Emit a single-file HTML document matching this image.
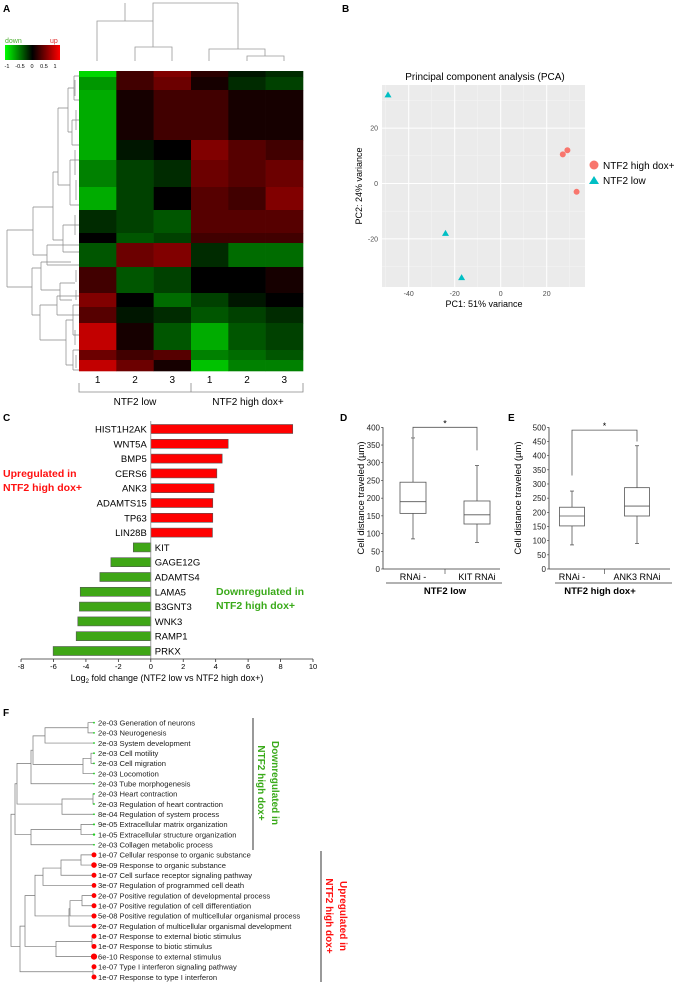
<!DOCTYPE html>
<html><head><meta charset="utf-8">
<style>
html,body{margin:0;padding:0;background:#fff;}
svg{display:block;font-family:"Liberation Sans",Arial,sans-serif;}
</style></head>
<body>
<svg id="fig" width="689" height="986" viewBox="0 0 689 986" xmlns="http://www.w3.org/2000/svg">
<defs>
<linearGradient id="ckey" x1="0" x2="1" y1="0" y2="0">
<stop offset="0" stop-color="#00ff00"/><stop offset="0.5" stop-color="#000"/><stop offset="1" stop-color="#ff0000"/>
</linearGradient>
</defs>
<g font-weight="bold" font-size="10" fill="#000">
<text x="3" y="12">A</text>
<text x="342" y="12">B</text>
<text x="3" y="421">C</text>
<text x="340" y="421">D</text>
<text x="508" y="421">E</text>
<text x="3" y="716">F</text>
</g>

<g id="panelA">
<text x="5" y="43" font-size="7" fill="#4caf30">down</text>
<text x="50" y="43" font-size="7" fill="#e03030">up</text>
<rect x="5" y="45" width="55" height="15" fill="url(#ckey)"/>
<g font-size="5.5" fill="#000" text-anchor="middle">
<text x="7" y="68">-1</text><text x="20" y="68">-0.5</text><text x="32" y="68">0</text><text x="44" y="68">0.5</text><text x="55" y="68">1</text>
</g>
<g id="hm"></g>
<g id="topdend" stroke="#999" stroke-width="0.8" fill="none">
<path d="M97,61V21H153V47 M135,61V47H172V61 M153,21V3H238 M209,61V49H265V56 M247,61V56H284V61 M125,21V3 M238,3V49"/>
</g>
<g id="leftdend" stroke="#888" stroke-width="0.7" fill="none">
<path d="M7,230V287 M7,230H33 M7,287H32
M33,207V255 M33,207H53 M33,255H47
M53,172V240 M53,172H58 M53,240H63
M58,108V185 M58,108H68 M58,185H70
M68,88V132 M68,88H74 M68,132H72
M74,76V100 M74,76H79 M74,100H79 M72,120V145 M72,120H79 M72,145H79
M70,160V205 M70,160H79 M70,205H79
M63,225V252 M63,225H79 M63,252H79
M47,245V265 M47,245H79 M47,265H79
M32,268V315 M32,268H41 M32,315H40
M41,262V290 M41,262H71 M41,290H60
M60,283V300 M60,283H75 M60,300H72
M40,305V340 M40,305H57 M40,340H66
M57,296V315 M57,296H79 M57,315H79
M66,320V365 M66,320H73 M66,365H73
M73,305V335 M73,305H79 M73,335H79
M73,350V370 M73,350H79 M73,370H79
M75,80V96 M76,110V130 M75,150V175 M76,180V200 M75,215V235 M76,270V282 M76,290V300 M75,330V345 M76,355V368"/>
</g>
<g font-size="10" fill="#000" text-anchor="middle" id="collabels"></g>
<path d="M79,383V392H303V383 M191,383V392" stroke="#888" stroke-width="0.8" fill="none"/>
<text x="135" y="405" font-size="10" text-anchor="middle">NTF2 low</text>
<text x="248" y="405" font-size="10" text-anchor="middle">NTF2 high dox+</text>
</g>

<g id="panelB">
<text x="485" y="80" font-size="10" text-anchor="middle">Principal component analysis (PCA)</text>
<rect x="382" y="85" width="203" height="202" fill="#ebebeb"/>
<g id="pcagrid"></g>
<g id="pcapts"></g>
<text x="484" y="307" font-size="9" text-anchor="middle">PC1: 51% variance</text>
<text transform="translate(362,186) rotate(-90)" font-size="9" text-anchor="middle">PC2: 24% variance</text>
<circle cx="594" cy="165" r="4.5" fill="#f8766d"/>
<text x="603" y="169" font-size="10">NTF2 high dox+</text>
<path d="M594,176L599,184H589Z" fill="#00bfc4"/>
<text x="603" y="184" font-size="10">NTF2 low</text>
</g>

<g id="panelC">
<g id="cbars"></g>
<text x="3" y="477" font-size="10.5" font-weight="bold" fill="#ff1010">Upregulated in</text>
<text x="3" y="491" font-size="10.5" font-weight="bold" fill="#ff1010">NTF2 high dox+</text>
<text x="216" y="595" font-size="10.5" font-weight="bold" fill="#3aaa1a">Downregulated in</text>
<text x="216" y="609" font-size="10.5" font-weight="bold" fill="#3aaa1a">NTF2 high dox+</text>
<text x="167" y="681" font-size="9" text-anchor="middle">Log<tspan font-size="6" dy="2">2</tspan><tspan dy="-2"> fold change (NTF2 low vs NTF2 high dox+)</tspan></text>
</g>

<g id="panelD"></g>
<g id="panelE"></g>

<g id="panelF">
<g id="fdend" stroke="#777" stroke-width="0.7" fill="none"></g>
<g id="frows"></g>
<line x1="253" y1="718" x2="253" y2="850" stroke="#000" stroke-width="0.8"/>
<line x1="321" y1="851" x2="321" y2="982" stroke="#000" stroke-width="0.8"/>
<text transform="translate(272,783) rotate(90)" font-size="10" font-weight="bold" fill="#3aaa1a" text-anchor="middle">Downregulated in</text>
<text transform="translate(258,783) rotate(90)" font-size="10" font-weight="bold" fill="#3aaa1a" text-anchor="middle">NTF2 high dox+</text>
<text transform="translate(340,916) rotate(90)" font-size="10" font-weight="bold" fill="#ff1010" text-anchor="middle">Upregulated in</text>
<text transform="translate(326,916) rotate(90)" font-size="10" font-weight="bold" fill="#ff1010" text-anchor="middle">NTF2 high dox+</text>
</g>
</svg>
<script>
const NS="http://www.w3.org/2000/svg";
function mk(tag,attrs,parent){const e=document.createElementNS(NS,tag);for(const k in attrs)e.setAttribute(k,attrs[k]);parent.appendChild(e);return e;}

// ---------- Panel A data ----------
const hmBlockStarts=[0,6,19,69,89,116,139,162,172,196,222,236,252,279,289];
const hmBlockEnds=[6,19,69,89,116,139,162,172,196,222,236,252,279,289,300];
const hmValues=[
[-1,0.3,0.6,0.2,-0.1,-0.2],
[-0.7,0.3,0.5,0.1,-0.2,-0.3],
[-0.8,0.1,0.3,0.3,0.1,0.1],
[-0.8,-0.1,0,0.6,0.4,0.3],
[-0.6,-0.3,-0.2,0.5,0.4,0.5],
[-0.8,-0.3,0,0.4,0.3,0.6],
[-0.2,-0.3,-0.4,0.4,0.4,0.4],
[0,-0.4,-0.3,0.3,0.3,0.3],
[-0.4,0.5,0.6,-0.2,-0.5,-0.5],
[0.3,-0.4,-0.3,0,0,0.1],
[0.6,0,-0.5,-0.3,-0.1,0],
[0.4,-0.1,-0.2,-0.4,-0.3,-0.2],
[0.9,0.1,-0.4,-0.8,-0.4,-0.3],
[0.5,0.3,0.4,-0.6,-0.5,-0.4],
[0.9,0.5,0.1,-0.9,-0.6,-0.6]];
const hmCols=["1","2","3","1","2","3"];
const HX0=79,HX1=303,HY0=71,HY1=371;
function hmX(i){return HX0+(HX1-HX0)/hmCols.length*i;}
function hmY(r){return HY0+(HY1-HY0)/300*r;}
function col(v){const c=Math.round(Math.min(1,Math.abs(v))*215);return v<0?`rgb(0,${c},0)`:`rgb(${c},0,0)`;}
const hm=document.getElementById('hm');
hmValues.forEach((row,b)=>{row.forEach((v,c)=>{
 const r=mk('rect',{x:hmX(c),y:hmY(hmBlockStarts[b]),width:hmX(c+1)-hmX(c)+0.3,height:hmY(hmBlockEnds[b])-hmY(hmBlockStarts[b])+0.3,fill:col(v)},hm);
 
 
});});
const cl=document.getElementById('collabels');
hmCols.forEach((t,i)=>{const e=mk('text',{x:(hmX(i)+hmX(i+1))/2,y:383},cl);e.textContent=t;
 
 });

// ---------- Panel B data ----------
const pcaHighX=[27,29,33], pcaHighY=[10.5,12,-3];
const pcaLowX=[-49,-24,-17], pcaLowY=[32,-18,-34];
const pcaXTicks=[-40,-20,0,20], pcaYTicks=[-20,0,20];
function pX(v){return 500.7+v*2.3;}
function pY(v){return 183.5-v*2.77;}
const pg=document.getElementById('pcagrid');
[-50,-30,-10,10,30].forEach(v=>{if(pX(v)>382&&pX(v)<585)mk('line',{x1:pX(v),x2:pX(v),y1:85,y2:287,stroke:'#f5f5f5','stroke-width':0.5},pg);});
[-30,-10,10,30].forEach(v=>mk('line',{x1:382,x2:585,y1:pY(v),y2:pY(v),stroke:'#f5f5f5','stroke-width':0.5},pg));
pcaXTicks.forEach(v=>{mk('line',{x1:pX(v),x2:pX(v),y1:85,y2:287,stroke:'#fff','stroke-width':1},pg);
 const t=mk('text',{x:pX(v),y:296,'font-size':7,'text-anchor':'middle',fill:'#4d4d4d'},pg);t.textContent=v;
 
 });
pcaYTicks.forEach(v=>{mk('line',{x1:382,x2:585,y1:pY(v),y2:pY(v),stroke:'#fff','stroke-width':1},pg);
 const t=mk('text',{x:378,y:pY(v)+2.5,'font-size':7,'text-anchor':'end',fill:'#4d4d4d'},pg);t.textContent=v;
 
 });
const pp=document.getElementById('pcapts');
pcaHighX.forEach((x,i)=>{const c=mk('circle',{cx:pX(x),cy:pY(pcaHighY[i]),r:3,fill:'#f8766d'},pp);
 
 });
pcaLowX.forEach((x,i)=>{const cx=pX(x),cy=pY(pcaLowY[i]);const c=mk('path',{d:`M${cx},${cy-3.5}L${cx+3.5},${cy+2.5}H${cx-3.5}Z`,fill:'#00bfc4'},pp);
 
 });

// ---------- Panel C data ----------
const genes=["HIST1H2AK","WNT5A","BMP5","CERS6","ANK3","ADAMTS15","TP63","LIN28B","KIT","GAGE12G","ADAMTS4","LAMA5","B3GNT3","WNK3","RAMP1","PRKX"];
const foldChange=[8.75,4.77,4.4,4.07,3.9,3.82,3.82,3.8,-1.08,-2.46,-3.14,-4.35,-4.4,-4.5,-4.6,-6.02];
const fcTicks=[-8,-6,-4,-2,0,2,4,6,8,10];
function cX(v){return 150.8+v*16.22;}
function cY(i){return 429+i*14.8;}
const cb=document.getElementById('cbars');
foldChange.forEach((v,i)=>{const x0=Math.min(cX(0),cX(v)),w=Math.abs(cX(v)-cX(0));
 const r=mk('rect',{x:x0,y:cY(i)-4.5,width:w,height:9,fill:v>0?'#ff0000':'#3fa616',stroke:'#555','stroke-width':0.6},cb);
 
 
 const t=mk('text',{x:v>0?cX(0)-4:cX(0)+4,y:cY(i)+3.5,'font-size':9.5,'text-anchor':v>0?'end':'start'},cb);t.textContent=genes[i];
 
 });
mk('line',{x1:cX(0),x2:cX(0),y1:421,y2:659,stroke:'#888','stroke-width':0.8},cb);
mk('line',{x1:cX(-8),x2:cX(10),y1:659,y2:659,stroke:'#333','stroke-width':0.8},cb);
fcTicks.forEach(v=>{mk('line',{x1:cX(v),x2:cX(v),y1:659,y2:662,stroke:'#333','stroke-width':0.8},cb);
 const t=mk('text',{x:cX(v),y:669,'font-size':7.5,'text-anchor':'middle'},cb);t.textContent=v;
 
 });

// ---------- Panels D/E data ----------
const dGroups=["RNAi -","KIT RNAi"];
const dMin=[85,75],dQ1=[157,127],dMed=[190,153],dQ3=[245,192],dMax=[370,292];
const dTicks=[0,50,100,150,200,250,300,350,400];
const eGroups=["RNAi -","ANK3 RNAi"];
const eMin=[85,90],eQ1=[152,187],eMed=[187,222],eQ3=[218,287],eMax=[275,435];
const eTicks=[0,50,100,150,200,250,300,350,400,450,500];
function boxPanel(g,ax,ymax,centers,hw,groups,mn,q1,md,q3,mx,ticks,brk,title,titleX,lineX0,lineX1,ytitleX){
 const y=v=>569-v*(141.7/ymax);
 mk('line',{x1:ax,x2:ax,y1:y(ymax),y2:569,stroke:'#333','stroke-width':0.8},g);
 mk('line',{x1:ax,x2:lineX1-2,y1:569,y2:569,stroke:'#333','stroke-width':0.8},g);
 mk('line',{x1:(centers[0]+centers[1])/2,x2:(centers[0]+centers[1])/2,y1:569,y2:574,stroke:'#333','stroke-width':0.6},g);
 ticks.forEach(v=>{mk('line',{x1:ax-2,x2:ax,y1:y(v),y2:y(v),stroke:'#333','stroke-width':0.6},g);
  const t=mk('text',{x:ax-3,y:y(v)+3,'font-size':8,'text-anchor':'end',fill:'#222'},g);t.textContent=v;
  
  });
 centers.forEach((c,i)=>{
  const b=mk('g',{stroke:'#555','stroke-width':0.8,fill:'none'},g);
  
  
  mk('line',{x1:c,x2:c,y1:y(mx[i]),y2:y(q3[i])},b);
  mk('line',{x1:c,x2:c,y1:y(q1[i]),y2:y(mn[i])},b);
  mk('line',{x1:c-2,x2:c+2,y1:y(mx[i]),y2:y(mx[i])},b);
  mk('line',{x1:c-2,x2:c+2,y1:y(mn[i]),y2:y(mn[i])},b);
  mk('rect',{x:c-hw,y:y(q3[i]),width:2*hw,height:y(q1[i])-y(q3[i]),fill:'#fff'},b);
  mk('line',{x1:c-hw,x2:c+hw,y1:y(md[i]),y2:y(md[i])},b);
  const t=mk('text',{x:c,y:580,'font-size':9,'text-anchor':'middle'},g);t.textContent=groups[i];
  
  
 });
 mk('path',{d:`M${centers[0]},${y(brk[1])}V${y(brk[0])}H${centers[1]}V${y(brk[2])}`,stroke:'#555','stroke-width':0.8,fill:'none'},g);
 const s=mk('text',{x:(centers[0]+centers[1])/2,y:y(brk[0])-1,'font-size':9,'text-anchor':'middle'},g);s.textContent='*';
 
 
 mk('line',{x1:lineX0,x2:lineX1,y1:583,y2:583,stroke:'#333','stroke-width':0.8},g);
 const tt=mk('text',{x:titleX,y:594,'font-size':9.5,'font-weight':'bold','text-anchor':'middle'},g);tt.textContent=title;
 
 
 const yt=mk('text',{transform:`translate(${ytitleX},498) rotate(-90)`,'font-size':9.5,'text-anchor':'middle'},g);yt.textContent='Cell distance traveled (µm)';
 
 
}
boxPanel(document.getElementById('panelD'),383,400,[413,477],13,dGroups,dMin,dQ1,dMed,dQ3,dMax,dTicks,[400,372,335],'NTF2 low',445,386,502,364);
boxPanel(document.getElementById('panelE'),549,500,[572,637],12.5,eGroups,eMin,eQ1,eMed,eQ3,eMax,eTicks,[490,330,450],'NTF2 high dox+',600,555,672,521);

// ---------- Panel F data ----------
const goPvals=["2e-03","2e-03","2e-03","2e-03","2e-03","2e-03","2e-03","2e-03","2e-03","8e-04","9e-05","1e-05","2e-03","1e-07","9e-09","1e-07","3e-07","2e-07","1e-07","5e-08","2e-07","1e-07","1e-07","6e-10","1e-07","1e-07"];
const goTerms=["Generation of neurons","Neurogenesis","System development","Cell motility","Cell migration","Locomotion","Tube morphogenesis","Heart contraction","Regulation of heart contraction","Regulation of system process","Extracellular matrix organization","Extracellular structure organization","Collagen metabolic process","Cellular response to organic substance","Response to organic substance","Cell surface receptor signaling pathway","Regulation of programmed cell death","Positive regulation of developmental process","Positive regulation of cell differentiation","Positive regulation of multicellular organismal process","Regulation of multicellular organismal development","Response to external biotic stimulus","Response to biotic stimulus","Response to external stimulus","Type I interferon signaling pathway","Response to type I interferon"];
const goDirection=["down","down","down","down","down","down","down","down","down","down","down","down","down","up","up","up","up","up","up","up","up","up","up","up","up","up"];
function fY(i){return 722.7+i*10.17;}
const fr=document.getElementById('frows');
goTerms.forEach((t,i)=>{const p=parseFloat(goPvals[i]);const r=Math.min(3.2,0.6+(-Math.log10(p))*0.27);
 const c=mk('circle',{cx:94,cy:fY(i),r:goDirection[i]==='up'?r:Math.max(0.9,r*0.6),fill:goDirection[i]==='up'?'#ff0000':'#22cc22'},fr);
 
 
 const e=mk('text',{x:98,y:fY(i)+2.8,'font-size':7.6,fill:'#222'},fr);e.textContent=goPvals[i]+' '+t;
 
 });
const fd=document.getElementById('fdend');
function jn(x,a,b,ax,bx){mk('path',{d:`M${ax},${a}H${x}V${b}H${bx}`},fd);}
const L=94;
jn(88,fY(0),fY(1),L,L);jn(45,(fY(0)+fY(1))/2,fY(2),88,L);
jn(91,fY(3),fY(4),L,L);jn(83,(fY(3)+fY(4))/2,fY(5),91,L);
jn(33,(fY(0)+fY(2))/2+3,(fY(3)+fY(5))/2+1,45,83);jn(31,fY(3)-3,fY(6),33,L);
jn(93,fY(7),fY(8),L,L);jn(62,(fY(7)+fY(8))/2,fY(9),93,L);
jn(17,fY(4),(fY(7)+fY(9))/2,31,62);
jn(81,fY(10),fY(11),L,L);jn(31,(fY(10)+fY(11))/2,fY(12),81,L);
jn(15,fY(6),fY(11),17,31);
jn(81,fY(13),fY(14),L,L);jn(61,(fY(13)+fY(14))/2,fY(15),81,L);jn(43,fY(14)+3,fY(16),61,L);
jn(82,fY(17),fY(18),L,L);jn(70,(fY(17)+fY(18))/2,fY(19),82,L);jn(69,fY(18)+3,fY(20),70,L);
jn(35,fY(15),fY(19),43,69);
jn(92,fY(21),fY(22),L,L);jn(56,(fY(21)+fY(22))/2,fY(23),92,L);
jn(25,fY(17),fY(22),35,56);
jn(93,fY(24),fY(25),L,L);jn(20,fY(20),fY(24)+5,25,93);
jn(11,fY(9),fY(22),15,20);
</script>
</body></html>
